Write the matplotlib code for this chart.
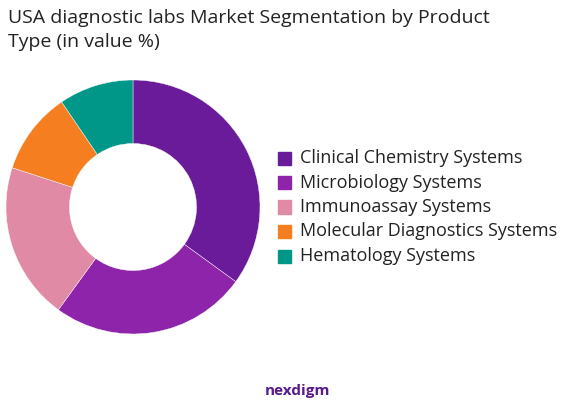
import matplotlib.pyplot as plt

labels = ['Clinical Chemistry Systems', 'Microbiology Systems', 'Immunoassay Systems',
          'Molecular Diagnostics Systems', 'Hematology Systems']
values = [35, 25, 20, 10.5, 9.5]
colors = ['#6A1B9A', '#8E24AA', '#E08AA5', '#F57F20', '#009688']

plt.rcParams['font.family'] = ['Open Sans', 'DejaVu Sans']
fig = plt.figure(figsize=(5.88, 4.12), dpi=100)

ax = fig.add_axes([6/588, 1 - 334/412, 254/588, 254/412])
ax.pie(values, colors=colors, startangle=90, counterclock=False,
       wedgeprops=dict(width=0.5, edgecolor='white', linewidth=0.3))
ax.set_xlim(-1, 1)
ax.set_ylim(-1, 1)
ax.set_aspect('equal')

fig.text(8/588, 1 - 18/412, 'USA diagnostic labs Market Segmentation by Product',
         fontsize=14, va='center', color='#222222')
fig.text(8/588, 1 - 42/412, 'Type (in value %)', fontsize=14, va='center', color='#222222')

for i, (lab, c) in enumerate(zip(labels, colors)):
    y = 1 - (158 + i * 24.5) / 412
    fig.patches.append(plt.Rectangle((278/588, y - 6.5/412), 13/588, 13/412,
                                     transform=fig.transFigure, color=c))
    fig.text(300/588, y, lab, fontsize=13, va='center', color='#222222')

fig.text(265/588, 1 - 391/412, 'nexdigm', fontsize=11, va='center',
         color='#5a1a8a', fontweight='bold')

fig.savefig('out.png')
